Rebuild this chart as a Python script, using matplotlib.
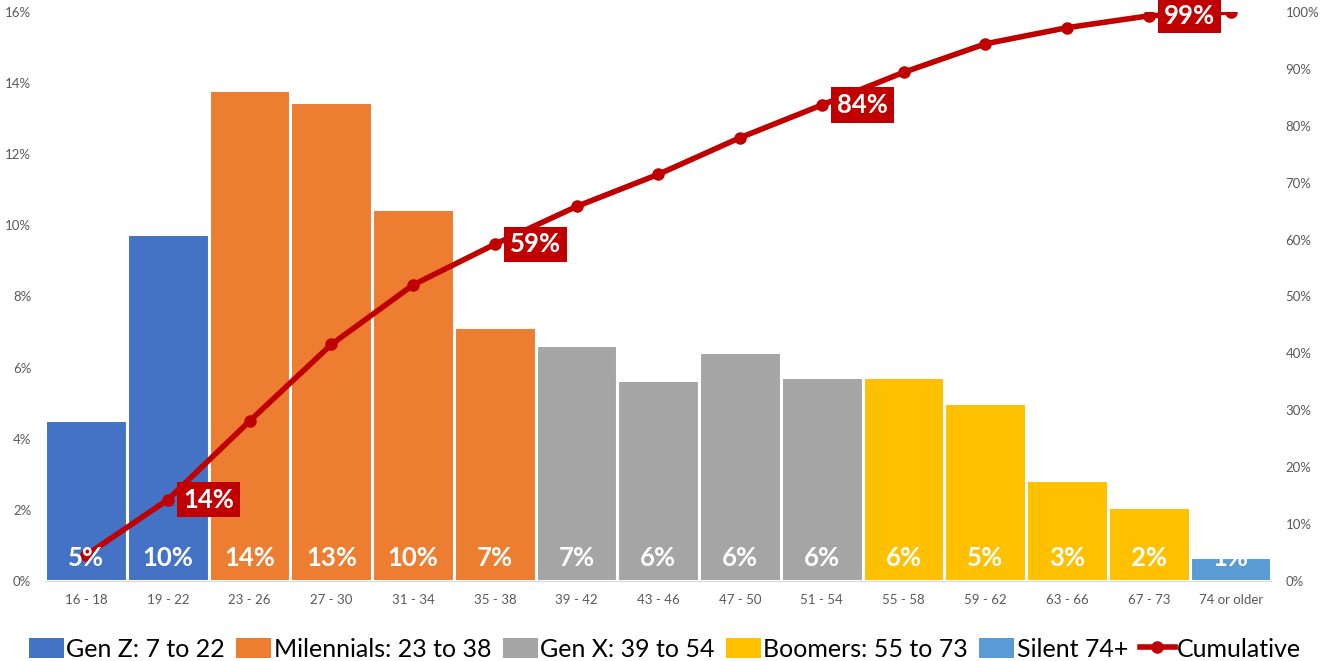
import matplotlib
matplotlib.use("Agg")
import matplotlib.pyplot as plt
import numpy as np
from matplotlib.patches import Patch
from matplotlib.lines import Line2D

plt.rcParams['font.family'] = ['Lato', 'DejaVu Sans']

categories = ["16 - 18", "19 - 22", "23 - 26", "27 - 30", "31 - 34", "35 - 38", "39 - 42",
              "43 - 46", "47 - 50", "51 - 54", "55 - 58", "59 - 62", "63 - 66", "67 - 73", "74 or older"]
shares = [4.53, 9.76, 13.81, 13.47, 10.46, 7.14, 6.64, 5.65, 6.44, 5.74, 5.74, 5.01, 2.84, 2.08, 0.67]
groups = ["Gen Z", "Gen Z", "Mil", "Mil", "Mil", "Mil", "GenX", "GenX", "GenX", "GenX",
          "Boom", "Boom", "Boom", "Boom", "Silent"]
group_names = {"Gen Z": "Gen Z: 7 to 22", "Mil": "Milennials: 23 to 38", "GenX": "Gen X: 39 to 54",
               "Boom": "Boomers: 55 to 73", "Silent": "Silent 74+"}
group_colors = {"Gen Z": "#4472C4", "Mil": "#ED7D31", "GenX": "#A5A5A5", "Boom": "#FFC000", "Silent": "#5B9BD5"}
cum_label_idx = [1, 5, 9, 13]

cumulative = np.cumsum(shares)

fig = plt.figure(figsize=(13.3, 6.61), dpi=100)
ax = fig.add_axes([0.034, 0.121, 0.922, 0.861])
ax2 = ax.twinx()

x = np.arange(len(categories))
colors = [group_colors[g] for g in groups]
ax.bar(x, shares, width=1.0, color=colors, edgecolor="white", linewidth=2.2, zorder=2)
ax.set_xlim(-0.5, len(categories) - 0.5)
ax.set_ylim(0, 16)
ax.set_yticks(np.arange(0, 17, 2))
ax.set_yticklabels([f"{v}%" for v in range(0, 17, 2)])
ax.set_xticks(x)
ax.set_xticklabels(categories)
ax.tick_params(axis="both", length=0, labelsize=9.5, labelcolor="#595959")
ax.tick_params(axis="x", pad=9)
ax.tick_params(axis="y", pad=10)
for s in ["top", "right", "left"]:
    ax.spines[s].set_visible(False)
    ax2.spines[s].set_visible(False)
ax.spines["bottom"].set_color("#D9D9D9")
ax2.spines["bottom"].set_visible(False)

ax2.set_ylim(0, 100)
ax2.set_yticks(np.arange(0, 101, 10))
ax2.set_yticklabels([f"{v}%" for v in range(0, 101, 10)])
ax2.tick_params(axis="y", length=0, labelsize=9.5, labelcolor="#595959", pad=10)
ax2.plot(x, cumulative, color="#C00000", linewidth=4, marker="o", markersize=8, zorder=3,
         solid_capstyle="round")

for xi, v in zip(x, shares):
    ax2.text(xi, 4.0, f"{round(v):.0f}%", ha="center", va="center", color="white",
             fontsize=18.5, fontweight="bold", zorder=5)

for i in cum_label_idx:
    ax2.annotate(f"{cumulative[i]:.0f}%", xy=(x[i], cumulative[i]), xytext=(11, 0),
                 textcoords="offset points", ha="left", va="center", color="white",
                 fontsize=18.5, fontweight="bold", zorder=6,
                 bbox=dict(boxstyle="square,pad=0.22", fc="#C00000", ec="none"))

handles = [Patch(facecolor=group_colors[k], edgecolor="none") for k in group_names]
labels = list(group_names.values())
handles.append(Line2D([0], [0], color="#C00000", linewidth=4, marker="o", markersize=8))
labels.append("Cumulative")
fig.legend(handles, labels, loc="lower center", bbox_to_anchor=(0.5, -0.022), ncol=6,
           frameon=False, fontsize=18, handlelength=1.4, handleheight=0.85,
           handletextpad=0.1, columnspacing=0.45, borderaxespad=0.2)

fig.savefig("out.png", dpi=100)
